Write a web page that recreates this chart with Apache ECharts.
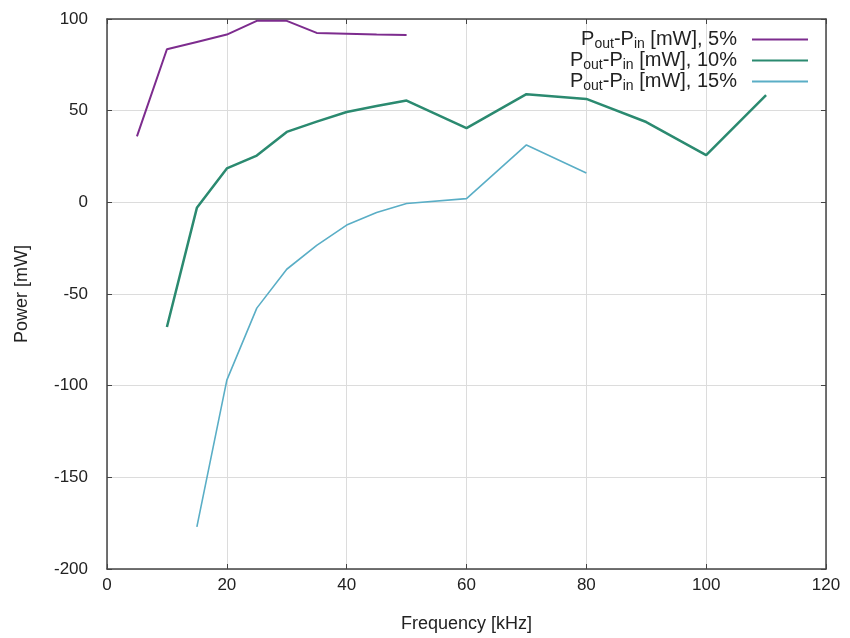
<!DOCTYPE html>
<html><head><meta charset="utf-8">
<script src="https://cdn.jsdelivr.net/npm/echarts@6/dist/echarts.min.js"></script>
<style>html,body{margin:0;padding:0;background:#fff}#c{width:850px;height:638px}</style>
</head><body><div id="c"></div>
<script>
const x5 = [5, 10, 15, 20, 25, 30, 35, 40, 45, 50];
const y5 = [36, 83.5, 87.5, 91.5, 99, 99, 92.4, 92, 91.5, 91.3];
const x10 = [10, 15, 20, 25, 30, 35, 40, 45, 50, 60, 70, 80, 90, 100, 110];
const y10 = [-68, -3, 18.5, 25.5, 38.4, 44, 49.3, 52.5, 55.5, 40.5, 59, 56.4, 43.8, 25.8, 58.5];
const x15 = [15, 20, 25, 30, 35, 40, 45, 50, 60, 70, 80];
const y15 = [-177, -97, -57.7, -36.5, -23.5, -12.4, -5.5, -0.6, 2, 31.3, 16];
const names = ['5%', '10%', '15%'];
const xTicks = [0, 20, 40, 60, 80, 100, 120];
const yTicks = [-200, -150, -100, -50, 0, 50, 100];

const pair = (xs, ys) => xs.map((v, i) => [v, ys[i]]);
const chart = echarts.init(document.getElementById('c'));
const fam = 'Liberation Sans, Arial, sans-serif';
const gridLine = {show: true, lineStyle: {color: '#dcdcdc', width: 1}};
const frame = {show: true, onZero: false, lineStyle: {color: '#444', width: 1.5}};
const tick = {show: true, inside: true, length: 5, lineStyle: {color: '#444'}};
chart.setOption({
  animation: false,
  backgroundColor: '#fff',
  grid: {left: 107, right: 24, top: 19, bottom: 69},
  legend: {
    orient: 'vertical', right: 42, top: 28, align: 'right', itemGap: -2,
    itemWidth: 56, itemHeight: 10, icon: 'path://M0,4h56v2h-56z', padding: 0,
    data: names.map(n => 'P_out-P_in [mW], ' + n),
    formatter: function (name) {
      const p = name.split(', ')[1];
      return '{m|P}{s|out}{m|-P}{s|in}{m| [mW], ' + p + '}';
    },
    textStyle: {
      fontFamily: fam, color: '#222', padding: [0, 10, 0, 0],
      rich: {
        m: {fontSize: 20, fontFamily: fam, color: '#222', lineHeight: 21},
        s: {fontSize: 14, fontFamily: fam, color: '#222', lineHeight: 21, padding: [9, 0, 0, 0]}
      }
    }
  },
  xAxis: [{
    type: 'value', min: 0, max: 120, interval: 20,
    name: 'Frequency [kHz]', nameLocation: 'middle', nameGap: 46,
    nameTextStyle: {fontSize: 18, fontFamily: fam, color: '#222'},
    axisLabel: {fontSize: 17, fontFamily: fam, color: '#222', margin: 8,
      formatter: v => xTicks.includes(v) ? String(v) : ''},
    axisLine: frame, axisTick: tick, splitLine: gridLine
  }, {
    type: 'value', min: 0, max: 120, interval: 20, position: 'top',
    axisLabel: {show: false}, axisLine: frame, axisTick: tick, splitLine: {show: false}
  }],
  yAxis: [{
    type: 'value', min: -200, max: 100, interval: 50,
    name: 'Power [mW]', nameLocation: 'middle', nameGap: 76,
    nameTextStyle: {fontSize: 18, fontFamily: fam, color: '#222'},
    axisLabel: {fontSize: 17, fontFamily: fam, color: '#222', margin: 19,
      formatter: v => yTicks.includes(v) ? String(v) : ''},
    axisLine: frame, axisTick: tick, splitLine: gridLine
  }, {
    type: 'value', min: -200, max: 100, interval: 50, position: 'right',
    axisLabel: {show: false}, axisLine: frame, axisTick: tick, splitLine: {show: false}
  }],
  series: [
    {name: 'P_out-P_in [mW], 5%', type: 'line', data: pair(x5, y5), symbol: 'none',
      itemStyle: {color: '#7d2c8e'}, lineStyle: {color: '#7d2c8e', width: 2}},
    {name: 'P_out-P_in [mW], 10%', type: 'line', data: pair(x10, y10), symbol: 'none',
      itemStyle: {color: '#2b8a70'}, lineStyle: {color: '#2b8a70', width: 2.5}},
    {name: 'P_out-P_in [mW], 15%', type: 'line', data: pair(x15, y15), symbol: 'none',
      itemStyle: {color: '#5aaec6'}, lineStyle: {color: '#5aaec6', width: 1.6}}
  ]
});
</script></body></html>
